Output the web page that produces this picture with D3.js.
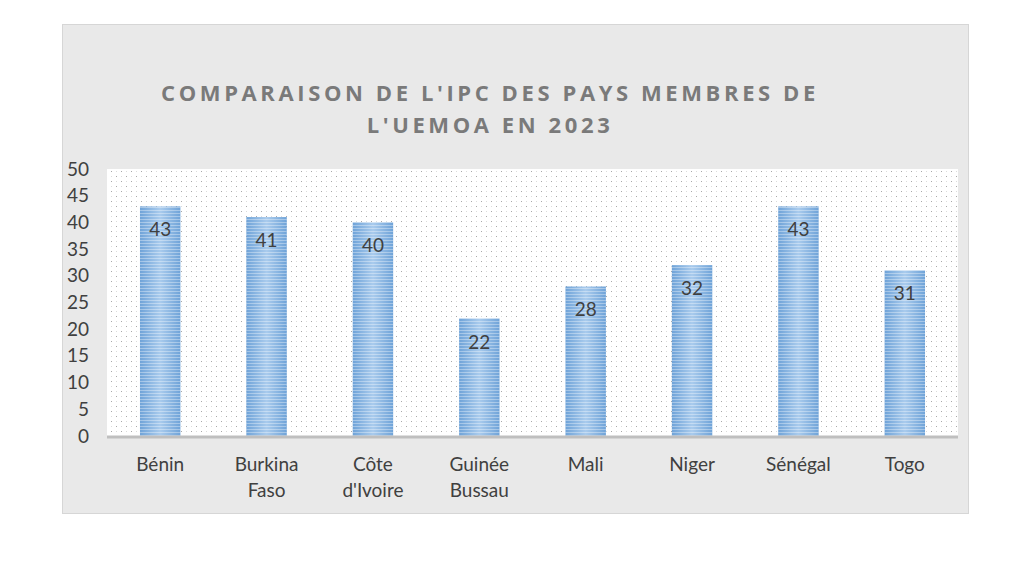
<!DOCTYPE html>
<html>
<head>
<meta charset="utf-8">
<script src="https://cdn.jsdelivr.net/npm/d3@7.9.0/dist/d3.min.js"></script>
<style>
  body { margin: 0; background: #fff; }
  svg { display: block; }
</style>
</head>
<body>
<svg id="chart" width="1024" height="584"></svg>
<script>
const countries = [['Bénin'], ['Burkina', 'Faso'], ['Côte', "d'Ivoire"], ['Guinée', 'Bussau'], ['Mali'], ['Niger'], ['Sénégal'], ['Togo']];
const ipc = [43, 41, 40, 22, 28, 32, 43, 31];
const yTicks = [0, 5, 10, 15, 20, 25, 30, 35, 40, 45, 50];
const titleLines = ["COMPARAISON DE L'IPC DES PAYS MEMBRES DE", "L'UEMOA EN 2023"];

const svg = d3.select('#chart');
const font = 'Lato, "Open Sans", sans-serif';

const defs = svg.append('defs');

// dotted plot background
const dots = defs.append('pattern')
    .attr('id', 'dots')
    .attr('width', 10).attr('height', 10)
    .attr('patternUnits', 'userSpaceOnUse');
dots.append('rect').attr('width', 10).attr('height', 10).attr('fill', '#fff');
[[1, 1], [6, 6]].forEach(([x, y]) => {
    dots.append('rect').attr('x', x).attr('y', y).attr('width', 1).attr('height', 1).attr('fill', '#a8a8a8');
});
[[6, 1], [1, 6]].forEach(([x, y]) => {
    dots.append('rect').attr('x', x).attr('y', y).attr('width', 1).attr('height', 1).attr('fill', '#dcdcdc');
});

// bar gradient (darker edges, lighter centre)
const grad = defs.append('linearGradient').attr('id', 'barGrad').attr('x1', '0').attr('x2', '1');
grad.append('stop').attr('offset', '0%').attr('stop-color', '#6fa3d8');
grad.append('stop').attr('offset', '50%').attr('stop-color', '#a9cbed');
grad.append('stop').attr('offset', '100%').attr('stop-color', '#6fa3d8');

// horizontal stripes over the bars
const stripes = defs.append('pattern')
    .attr('id', 'stripes')
    .attr('width', 4).attr('height', 3)
    .attr('patternUnits', 'userSpaceOnUse');
stripes.append('rect').attr('y', 0).attr('width', 4).attr('height', 1).attr('fill', 'rgba(255,255,255,0.35)');

// chart box
svg.append('rect')
    .attr('x', 62.5).attr('y', 24.5).attr('width', 906).attr('height', 489)
    .attr('fill', '#e9e9e9').attr('stroke', '#d6d6d6');

// title
svg.append('g').selectAll('text')
    .data(titleLines)
    .join('text')
    .attr('x', 490)
    .attr('y', (d, i) => 101 + i * 32)
    .attr('text-anchor', 'middle')
    .attr('font-family', '"Open Sans", sans-serif')
    .attr('font-weight', 'bold')
    .attr('font-size', 22)
    .attr('letter-spacing', 3.6)
    .attr('fill', '#7a7a7a')
    .text(d => d);

const margin = { left: 107, right: 958, top: 169, bottom: 436 };

const x = d3.scaleBand()
    .domain(d3.range(countries.length))
    .range([margin.left, margin.right])
    .paddingInner(0.62)
    .paddingOuter(0.31);

const y = d3.scaleLinear()
    .domain([0, 50])
    .range([margin.bottom, margin.top]);

svg.append('rect')
    .attr('x', margin.left).attr('y', margin.top)
    .attr('width', margin.right - margin.left)
    .attr('height', margin.bottom - margin.top)
    .attr('fill', 'url(#dots)');

// y axis labels
const yAxis = svg.append('g')
    .attr('transform', `translate(${margin.left - 18},0)`)
    .call(d3.axisLeft(y).tickValues(yTicks).tickSize(0).tickPadding(0));
yAxis.select('.domain').remove();
yAxis.selectAll('text')
    .attr('font-family', font)
    .attr('font-size', 19)
    .attr('fill', '#404040');

// bars
const bars = svg.append('g');
bars.selectAll('rect.bar')
    .data(ipc)
    .join('rect')
    .attr('class', 'bar')
    .attr('x', (d, i) => x(i))
    .attr('y', d => y(d))
    .attr('width', x.bandwidth())
    .attr('height', d => y(0) - y(d))
    .attr('fill', 'url(#barGrad)');
bars.selectAll('rect.stripe')
    .data(ipc)
    .join('rect')
    .attr('class', 'stripe')
    .attr('x', (d, i) => x(i))
    .attr('y', d => y(d))
    .attr('width', x.bandwidth())
    .attr('height', d => y(0) - y(d))
    .attr('fill', 'url(#stripes)');

// value labels
svg.append('g').selectAll('text')
    .data(ipc)
    .join('text')
    .attr('x', (d, i) => x(i) + x.bandwidth() / 2)
    .attr('y', d => y(d) + 30)
    .attr('text-anchor', 'middle')
    .attr('font-family', font)
    .attr('font-size', 19)
    .attr('fill', '#404040')
    .text(d => d);

// baseline
svg.append('line')
    .attr('x1', margin.left).attr('x2', margin.right)
    .attr('y1', y(0) + 1).attr('y2', y(0) + 1)
    .attr('stroke', '#bfbfbf').attr('stroke-width', 3);

// category labels
const xAxis = svg.append('g');
countries.forEach((lines, i) => {
    const t = xAxis.append('text')
        .attr('x', x(i) + x.bandwidth() / 2)
        .attr('y', 471)
        .attr('text-anchor', 'middle')
        .attr('font-family', font)
        .attr('font-size', 19)
        .attr('fill', '#404040');
    lines.forEach((l, j) => {
        t.append('tspan')
            .attr('x', x(i) + x.bandwidth() / 2)
            .attr('dy', j === 0 ? 0 : 26)
            .text(l);
    });
});
</script>
</body>
</html>
